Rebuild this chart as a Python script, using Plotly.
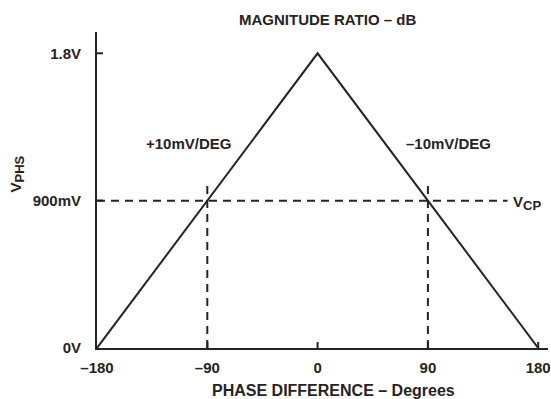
import plotly.graph_objects as go

# Data
phase_deg = [-180, 0, 180]
vphs_volts = [0.0, 1.8, 0.0]
vcp_level = 0.9
vcp_x_extent = [-180, 155]
marker_phases = [-90, 90]
marker_top = 1.0
x_tickvals = [-180, -90, 0, 90, 180]
x_ticktext = ["\u2013180", "\u201390", "0", "90", "180"]
y_tickvals = [0, 0.9, 1.8]
y_ticktext = ["0V", "900mV", "1.8V"]
x_cross_ticks = [-90, 0, 90, 180]
y_cross_ticks = [0.9, 1.8]

INK = "#262324"
FAM = "Arial, Liberation Sans, sans-serif"
FONT = dict(family=FAM, size=15, color=INK, weight="bold")

fig = go.Figure()

# dashed reference lines
fig.add_trace(go.Scatter(x=vcp_x_extent, y=[vcp_level, vcp_level], mode="lines",
                         line=dict(color=INK, width=2, dash="8px,6px"), hoverinfo="skip"))
for p in marker_phases:
    fig.add_trace(go.Scatter(x=[p, p], y=[0, marker_top], mode="lines",
                             line=dict(color=INK, width=2, dash="8px,6px"), hoverinfo="skip"))

# main triangle
fig.add_trace(go.Scatter(x=phase_deg, y=vphs_volts, mode="lines",
                         line=dict(color=INK, width=2), hoverinfo="skip"))

shapes = []
for xv in x_cross_ticks:
    shapes.append(dict(type="line", xref="x", yref="y", ysizemode="pixel", yanchor=0,
                       x0=xv, x1=xv, y0=-6, y1=6, line=dict(color=INK, width=2)))
for yv in y_cross_ticks:
    shapes.append(dict(type="line", xref="x", yref="y", xsizemode="pixel", xanchor=-180,
                       x0=-6, x1=6, y0=yv, y1=yv, line=dict(color=INK, width=2)))

SUB = "<sub><span style='font-size:13px'>%s</span></sub>"
annotations = [
    dict(text="MAGNITUDE RATIO \u2013 dB", xref="paper", yref="paper", x=0.5, y=1.0,
         xanchor="center", yanchor="bottom", yshift=2, xshift=5, showarrow=False, font=FONT),
    dict(text="+10mV/DEG", x=-105, y=1.25, xref="x", yref="y", showarrow=False, font=FONT),
    dict(text="\u201310mV/DEG", x=107, y=1.25, xref="x", yref="y", showarrow=False, font=FONT),
    dict(text="V" + SUB % "CP", x=155, y=vcp_level, xref="x", yref="y", xanchor="left",
         yshift=-2, xshift=3, showarrow=False, font=FONT),
    dict(text="V" + SUB % "PHS", x=0, y=1.06, xref="paper", yref="y", xanchor="center",
         xshift=-80, textangle=-90, showarrow=False, font=FONT),
    dict(text="PHASE DIFFERENCE \u2013 Degrees", xref="paper", yref="paper", x=0.5, y=0,
         xanchor="center", yanchor="middle", xshift=11, yshift=-42, showarrow=False,
         font=dict(family=FAM, size=16, color=INK, weight="bold")),
]

fig.update_layout(
    width=551, height=399,
    margin=dict(l=97, r=0, t=32, b=51),
    paper_bgcolor="white", plot_bgcolor="white",
    showlegend=False,
    font=FONT,
    shapes=shapes,
    annotations=annotations,
    xaxis=dict(range=[-180, 188], showgrid=False, zeroline=False, showline=True,
               linecolor=INK, linewidth=2, ticks="", tickvals=x_tickvals, ticktext=x_ticktext,
               tickfont=FONT, ticklabelstandoff=5, ticklabeloverflow="allow"),
    yaxis=dict(range=[0, 1.93], showgrid=False, zeroline=False, showline=True,
               linecolor=INK, linewidth=2, ticks="", tickvals=y_tickvals, ticktext=y_ticktext,
               tickfont=FONT, ticklabelstandoff=11, ticklabeloverflow="allow"),
)

fig.write_html("out.html")
